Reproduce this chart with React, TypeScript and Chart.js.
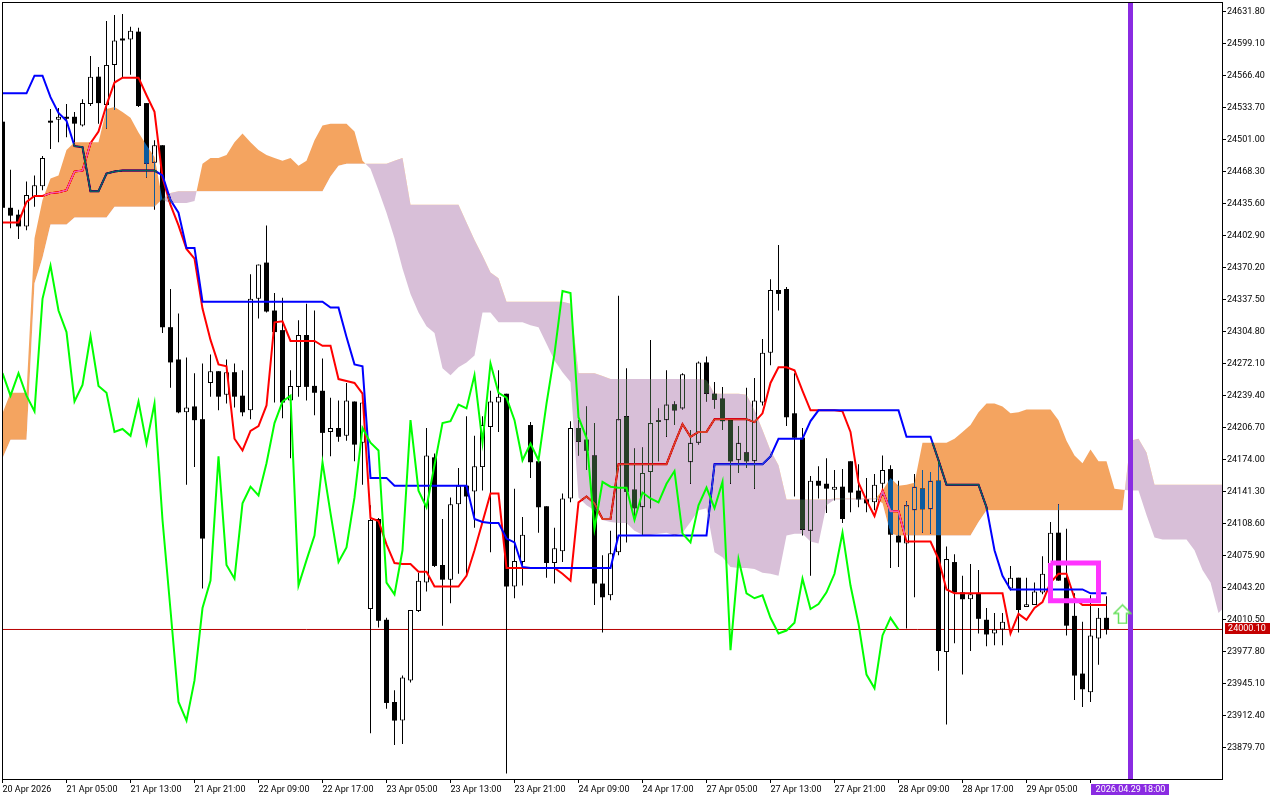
import React, { useEffect, useRef } from "react";
import { Chart, registerables } from "chart.js";

const priceTicks = [24631.8, 24599.1, 24566.4, 24533.7, 24501.0, 24468.3, 24435.6, 24402.9, 24370.2, 24337.5, 24304.8, 24272.1, 24239.4, 24206.7, 24174.0, 24141.3, 24108.6, 24075.9, 24043.2, 24010.5, 23977.8, 23945.1, 23912.4, 23879.7];
const timeTickBars = [0, 8, 16, 24, 32, 40, 48, 56, 64, 72, 80, 88, 96, 104, 112, 120, 128, 136];
const timeTickLabels = ["20 Apr 2026", "21 Apr 05:00", "21 Apr 13:00", "21 Apr 21:00", "22 Apr 09:00", "22 Apr 17:00", "23 Apr 05:00", "23 Apr 13:00", "23 Apr 21:00", "24 Apr 09:00", "24 Apr 17:00", "27 Apr 05:00", "27 Apr 13:00", "27 Apr 21:00", "28 Apr 09:00", "28 Apr 17:00", "29 Apr 05:00", "29 Apr 13:00"];

const opens = [
  24519,24431,24424,24412,24442,24453,24520,24521,24524,24524,24515,24537,24565,24536,24577,24604,24603,24611,24538,24477,
  24495,24309,24276,24222,24228,24215,24252,24264,24240,24263,24239,24224,24338,24375,24326,24306,24234,24248,24301,24249,
  24244,24202,24206,24198,24233,24191,24021,24113,24010,23926,23907,23948,24019,24048,24176,24066,24051,24128,24147,24141,
  24166,24207,24232,24241,24044,24069,24209,24172,24126,24068,24080,24134,24206,24194,24178,24047,24035,24079,24218,24143,
  24125,24161,24212,24214,24230,24226,24171,24191,24273,24241,24236,24214,24173,24181,24172,24232,24283,24347,24348,24221,
  24196,24101,24152,24149,24143,24146,24172,24142,24133,24130,24149,24164,24096,24088,24122,24144,24123,24152,23977,24069,
  24038,24031,24037,24010,23996,24000,24042,24053,24023,24025,24038,24050,24099,24053,24014,23955,23936,23991,24012,
];
const highs = [
  24519,24470,24429,24458,24464,24484,24532,24533,24537,24529,24542,24586,24575,24622,24628,24629,24616,24615,24538,24500,
  24495,24348,24323,24278,24262,24272,24281,24264,24276,24272,24265,24363,24373,24413,24344,24339,24265,24316,24333,24326,
  24277,24237,24234,24252,24233,24233,24127,24114,24012,23938,23953,24020,24058,24206,24180,24113,24135,24165,24218,24198,
  24218,24244,24265,24241,24144,24115,24212,24173,24126,24104,24139,24213,24214,24228,24211,24076,24101,24341,24267,24185,
  24186,24296,24226,24265,24233,24262,24204,24274,24279,24253,24248,24214,24208,24247,24257,24297,24358,24393,24350,24262,
  24206,24157,24167,24175,24163,24164,24172,24169,24155,24159,24178,24168,24152,24131,24159,24163,24161,24173,24085,24077,
  24055,24067,24061,24022,24017,24017,24065,24053,24053,24048,24075,24110,24128,24103,24037,24008,24035,24022,24034,
];
const lows = [
  24412,24410,24399,24408,24432,24449,24491,24498,24503,24498,24514,24535,24517,24512,24531,24564,24567,24534,24462,24429,
  24303,24247,24221,24148,24166,24042,24238,24224,24231,24227,24218,24215,24318,24324,24232,24216,24175,24238,24234,24219,
  24171,24177,24192,24193,24172,24148,23894,24002,23919,23882,23883,23946,24018,24039,24064,24004,24027,24057,24057,24104,
  24142,24079,24202,23853,24032,24045,24155,24099,24053,24047,24069,24130,24178,24163,24025,23997,24030,24076,24089,24112,
  24097,24124,24172,24197,24209,24225,24149,24189,24233,24226,24204,24149,24160,24165,24144,24229,24270,24326,24208,24136,
  24096,24055,24134,24119,24132,24109,24120,24125,24120,24122,24137,24063,24064,24001,24033,24099,24098,23958,23903,23986,
  23954,23978,23996,23983,23984,23984,24040,23997,24023,24025,24036,24043,24050,23994,23928,23921,23926,23964,23995,
];
const closes = [
  24431,24423,24412,24444,24454,24482,24518,24524,24522,24517,24538,24565,24538,24577,24602,24602,24612,24535,24476,24495,
  24309,24273,24222,24227,24214,24093,24264,24238,24263,24238,24222,24338,24373,24325,24304,24232,24249,24301,24248,24242,
  24201,24206,24197,24234,24189,24232,24112,24009,23925,23907,23951,24020,24050,24178,24065,24051,24128,24147,24136,24167,
  24209,24233,24238,24044,24070,24097,24171,24125,24068,24083,24134,24206,24192,24183,24047,24033,24078,24215,24141,24124,
  24160,24211,24214,24230,24224,24261,24191,24273,24241,24235,24213,24172,24191,24172,24234,24283,24347,24343,24217,24196,
  24102,24152,24147,24144,24146,24113,24140,24133,24129,24148,24163,24097,24089,24127,24146,24123,24152,23978,24072,24038,
  24031,24036,24011,23995,24000,24008,24053,24020,24026,24039,24057,24099,24050,24004,23953,23939,23994,24012,24000,
];
const tenkan = [
  24416,24416,24416,24437,24443,24443,24446,24447,24449,24468,
  24469,24497,24509,24536,24559,24564,24564,24564,24546,24529,
  24462,24434,24413,24389,24379,24328,24296,24271,24269,24195,
  24183,24203,24208,24229,24314,24315,24295,24295,24295,24295,
  24290,24290,24256,24254,24252,24241,24114,24111,24087,24068,
  24067,24067,24059,24059,24044,24044,24044,24044,24055,24081,
  24110,24139,24139,24063,24063,24063,24063,24063,24063,24063,
  24057,24050,24130,24136,24129,24113,24113,24169,24169,24169,
  24169,24169,24169,24169,24190,24210,24197,24202,24202,24215,
  24215,24215,24215,24215,24212,24221,24252,24268,24268,24265,
  24244,24224,24224,24224,24224,24223,24202,24150,24132,24116,
  24142,24121,24121,24090,24090,24090,24090,24072,24041,24037,
  24037,24037,24037,24037,24037,24037,23996,24016,24010,24022,
  24028,24048,24057,24057,24032,24025,24025,24025,24025,
];
const kijun = [
  24548,24548,24548,24548,24566,24566,24544,24528,24520,24494,
  24493,24448,24448,24466,24468,24469,24469,24469,24469,24469,
  24464,24439,24426,24390,24390,24335,24335,24335,24335,24335,
  24335,24335,24335,24335,24335,24335,24335,24335,24335,24335,
  24335,24329,24329,24299,24271,24269,24155,24155,24155,24147,
  24147,24147,24147,24147,24147,24147,24147,24147,24147,24113,
  24110,24109,24109,24093,24089,24064,24063,24063,24063,24063,
  24063,24063,24063,24063,24063,24063,24063,24096,24096,24096,
  24096,24096,24096,24096,24096,24096,24096,24096,24096,24169,
  24169,24169,24169,24169,24169,24169,24177,24195,24195,24195,
  24195,24213,24224,24224,24224,24224,24224,24224,24224,24224,
  24224,24224,24224,24197,24197,24197,24197,24173,24148,24148,
  24148,24148,24148,24125,24081,24055,24041,24041,24041,24041,
  24041,24041,24041,24041,24041,24041,24037,24037,24037,
];
const chikou = [
  24262,24239,24262,24239,24223,24338,24372,24326,24304,24233,
  24250,24300,24249,24242,24202,24205,24198,24233,24190,24231,
  24112,24020,23926,23907,23948,24022,24050,24177,24066,24052,
  24129,24146,24137,24170,24211,24233,24239,24045,24071,24096,
  24171,24119,24069,24084,24135,24206,24191,24183,24048,24036,
  24081,24214,24142,24125,24168,24211,24213,24230,24226,24260,
  24191,24272,24242,24237,24214,24173,24190,24173,24231,24282,
  24346,24344,24217,24196,24103,24151,24146,24145,24145,24112,
  24140,24134,24130,24149,24162,24098,24089,24127,24145,24124,
  24151,23979,24072,24037,24032,24035,24012,23996,23999,24007,
  24052,24021,24026,24038,24057,24099,24045,24006,23954,23940,
  23994,24012,24000,
];
const spanA = [
  24221,24242,24242,24242,24400,24439,24461,24464,24490,24498,
  24498,24498,24498,24532,24534,24529,24523,24508,24495,24483,
  24439,24436,24436,24436,24438,24476,24482,24482,24485,24498,
  24507,24498,24490,24485,24482,24479,24482,24474,24479,24500,
  24515,24517,24517,24517,24509,24479,24471,24449,24426,24400,
  24369,24343,24324,24310,24303,24267,24260,24268,24273,24280,
  24324,24324,24314,24314,24314,24314,24311,24309,24292,24275,
  24263,24253,24135,24127,24122,24112,24110,24109,24109,24101,
  24097,24097,24098,24099,24096,24099,24110,24122,24124,24079,
  24074,24064,24063,24063,24062,24058,24057,24055,24096,24098,
  24098,24090,24088,24127,24133,24133,24133,24133,24133,24133,
  24142,24155,24147,24148,24150,24191,24191,24191,24191,24195,
  24202,24209,24222,24231,24231,24228,24221,24222,24225,24225,
  24225,24225,24214,24193,24178,24170,24184,24172,24172,24144,
  24143,24142,24142,24117,24094,24092,24092,24092,24092,24081,
  24061,24048,24017,24025,
];
const spanB = [
  24175,24194,24194,24194,24354,24380,24414,24414,24414,24421,
  24421,24421,24421,24421,24432,24432,24432,24432,24432,24432,
  24440,24446,24448,24448,24448,24448,24448,24448,24448,24448,
  24448,24448,24448,24448,24448,24448,24448,24448,24448,24448,
  24448,24463,24474,24476,24476,24476,24476,24476,24476,24479,
  24482,24434,24434,24434,24434,24434,24434,24434,24416,24398,
  24382,24365,24359,24335,24335,24335,24335,24335,24335,24335,
  24335,24333,24262,24262,24262,24259,24256,24256,24256,24256,
  24256,24256,24256,24256,24256,24256,24256,24256,24255,24241,
  24241,24241,24241,24240,24224,24204,24183,24168,24133,24133,
  24133,24133,24133,24133,24134,24134,24134,24134,24134,24134,
  24129,24098,24096,24096,24096,24096,24096,24096,24096,24096,
  24096,24096,24110,24122,24122,24122,24122,24122,24122,24122,
  24122,24122,24122,24122,24122,24122,24122,24122,24122,24122,
  24122,24193,24195,24181,24148,24148,24148,24148,24148,24148,
  24148,24148,24148,24148,
];
const lastPrice = 24000.1;
const lastPriceLabel = "24000.10";
const markerBar = 141;
const markerLabel = "2026.04.29 18:00";
const boxBars = [131, 137, 137, 131, 131];
const boxPrices = [24068, 24068, 24029.5, 24029.5, 24068];
const signalBars = [140];
const signalPrices = [24016];

const AXIS_FONT = { family: "Roboto", size: 9 };
const ORANGE_DIFF = "#0B5B9F"; // white minus this = sandybrown, black minus this = blue
const THISTLE_DIFF = "#274027"; // white minus this = thistle

const kumoBlend = {
  id: "kumoBlend",
  beforeDatasetDraw(chart: any, args: any) {
    if (chart.data.datasets[args.index].label === "Senkou Span A") chart.ctx.globalCompositeOperation = "difference";
  },
  afterDatasetDraw(chart: any) {
    chart.ctx.globalCompositeOperation = "source-over";
  },
};
Chart.register(kumoBlend);
Chart.register(...registerables);

const whitePage = {
  id: "whitePage",
  beforeDraw(chart: any) {
    chart.ctx.save();
    chart.ctx.fillStyle = "#fff";
    chart.ctx.fillRect(0, 0, chart.width, chart.height);
    chart.ctx.restore();
  },
};

const frameAndTags = {
  id: "frameAndTags",
  afterDraw(chart: any) {
    const { ctx, chartArea, scales } = chart;
    ctx.save();
    ctx.strokeStyle = "#000";
    ctx.lineWidth = 1;
    ctx.strokeRect(chartArea.left + 0.5, chartArea.top + 0.5, chartArea.right - chartArea.left, chartArea.bottom - chartArea.top);
    ctx.font = "9px Roboto";
    ctx.textBaseline = "middle";
    ctx.textAlign = "center";
    const py = scales.y.getPixelForValue(lastPrice);
    ctx.fillStyle = "#c40000";
    ctx.fillRect(chartArea.right + 3, Math.round(py) - 6, 45, 11);
    ctx.fillStyle = "#fff";
    ctx.fillText(lastPriceLabel, chartArea.right + 25, Math.round(py));
    const mx = scales.x.getPixelForValue(markerBar);
    ctx.fillStyle = "#8a2be2";
    ctx.fillRect(Math.round(mx - 39.5), chartArea.bottom + 5, 78, 11);
    ctx.fillStyle = "#fff";
    ctx.fillText(markerLabel, mx, chartArea.bottom + 11);
    ctx.restore();
  },
};

function makeArrow() {
  const c = document.createElement("canvas");
  c.width = 19;
  c.height = 21;
  const g = c.getContext("2d")!;
  g.beginPath();
  g.moveTo(9.5, 1.5);
  g.lineTo(18, 10);
  g.lineTo(13.5, 10);
  g.lineTo(13.5, 20);
  g.lineTo(5.5, 20);
  g.lineTo(5.5, 10);
  g.lineTo(1, 10);
  g.closePath();
  g.fillStyle = "#fff";
  g.fill();
  g.strokeStyle = "#66e05a";
  g.lineWidth = 1.5;
  g.stroke();
  return c;
}

const series = (values: number[]) => values.map((y, x) => ({ x, y }));
const lineStyle = { type: "line" as const, pointRadius: 0, tension: 0, fill: false };
const noOuterPadding = (s: any) => {
  s.paddingTop = 0;
  s.paddingBottom = 0;
  s.paddingLeft = 0;
  s.paddingRight = 0;
};

export default function App() {
  const ref = useRef<HTMLCanvasElement>(null);
  useEffect(() => {
    const indices = opens.map((_, i) => i);
    const upBars = indices.filter((i) => closes[i] >= opens[i]);
    const downBars = indices.filter((i) => closes[i] < opens[i]);
    const barBase = { type: "bar" as const, grouped: false, borderSkipped: false, inflateAmount: 0 };
    const chart = new Chart(ref.current!, {
      type: "bar",
      data: {
        datasets: [
          { ...lineStyle, label: "Last price", order: 20, borderColor: "#b80000", borderWidth: 1, data: [{ x: -1, y: lastPrice }, { x: 154, y: lastPrice }] },
          { ...barBase, label: "Wicks", order: 12, barThickness: 1, backgroundColor: "#000", data: indices.map((i) => ({ x: i, y: [lows[i], highs[i]] })) },
          { ...barBase, label: "Bull bodies", order: 11, barThickness: 5, backgroundColor: "#fff", borderColor: "#000", borderWidth: 1, data: upBars.map((i) => ({ x: i, y: [opens[i], closes[i]] })) },
          { ...barBase, label: "Bear bodies", order: 10, barThickness: 5, backgroundColor: "#000", data: downBars.map((i) => ({ x: i, y: [opens[i], closes[i]] })) },
          { ...lineStyle, label: "Tenkan-sen", order: 9, borderColor: "#ff0000", borderWidth: 2, data: series(tenkan) },
          { ...lineStyle, label: "Kijun-sen", order: 8, borderColor: "#0000ff", borderWidth: 2, data: series(kijun) },
          { ...lineStyle, label: "Senkou Span A", order: 7, borderWidth: 0, fill: { target: "+1", above: ORANGE_DIFF, below: THISTLE_DIFF }, data: series(spanA) },
          { ...lineStyle, label: "Senkou Span B", order: 7, borderWidth: 0, data: series(spanB) },
          { ...lineStyle, label: "Chikou Span", order: 6, borderColor: "#00ff00", borderWidth: 2, data: series(chikou) },
          { ...lineStyle, label: "Marker", order: 5, borderColor: "#8a2be2", borderWidth: 5, data: [{ x: markerBar, y: 23800 }, { x: markerBar, y: 24700 }] },
          { ...lineStyle, label: "Box", order: 4, borderColor: "#ff33ff", borderWidth: 5, borderJoinStyle: "miter", data: boxBars.map((x, i) => ({ x, y: boxPrices[i] })) },
          { ...lineStyle, label: "Signal", order: 3, pointRadius: 5, pointStyle: makeArrow(), showLine: false, data: signalBars.map((x, i) => ({ x, y: signalPrices[i] })) },
        ] as any,
      },
      options: {
        responsive: false,
        devicePixelRatio: 1,
        animation: false,
        layout: { autoPadding: false, padding: { left: 2, top: 2, right: 0, bottom: 0 } },
        plugins: { legend: { display: false }, tooltip: { enabled: false }, title: { display: false } },
        scales: {
          x: {
            type: "linear",
            offset: false,
            min: -0.0625,
            max: 152.4375,
            afterFit: (s: any) => { s.height = 21; noOuterPadding(s); },
            afterBuildTicks: (s: any) => { s.ticks = timeTickBars.map((value) => ({ value })); },
            grid: { drawOnChartArea: false, drawTicks: true, tickLength: 4, tickColor: "#000", offset: false },
            border: { color: "#000" },
            ticks: {
              autoSkip: false,
              maxRotation: 0,
              minRotation: 0,
              align: "start",
              padding: 1,
              color: "#000",
              font: AXIS_FONT,
              callback: (v: any) => timeTickLabels[timeTickBars.indexOf(Number(v))] ?? "",
            },
          },
          y: {
            type: "linear",
            position: "right",
            min: 23847.3,
            max: 24641.3,
            afterFit: (s: any) => { s.width = 58; noOuterPadding(s); },
            afterBuildTicks: (s: any) => { s.ticks = priceTicks.map((value) => ({ value })); },
            grid: { drawOnChartArea: false, drawTicks: true, tickLength: 4, tickColor: "#000" },
            border: { color: "#000" },
            ticks: {
              autoSkip: false,
              padding: 1,
              color: "#000",
              font: AXIS_FONT,
              callback: (v: any) => Number(v).toFixed(2),
            },
          },
        },
      } as any,
      plugins: [whitePage, frameAndTags],
    });
    return () => chart.destroy();
  }, []);
  return (
    <div style={{ position: "fixed", left: 0, top: 0, width: 1280, height: 800, background: "#fff" }}>
      <canvas ref={ref} width={1280} height={800} style={{ display: "block" }} />
    </div>
  );
}
